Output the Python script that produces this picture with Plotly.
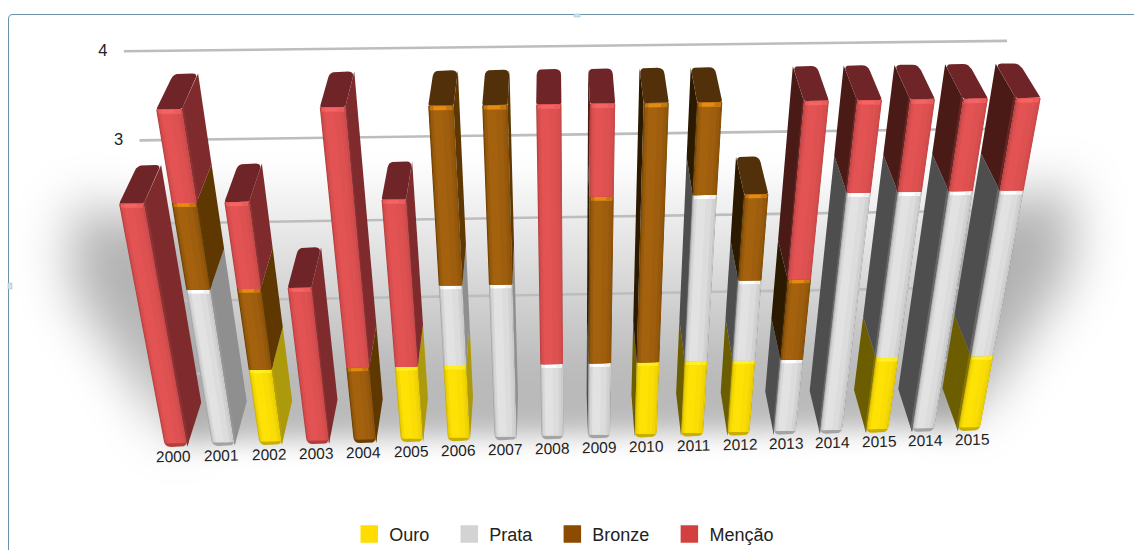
import base64
import plotly.graph_objects as go

# Medal counts per competition year (repeated years appear twice on the axis)
years = ["2000", "2001", "2002", "2003", "2004", "2005", "2006", "2007", "2008",
         "2009", "2010", "2011", "2012", "2013", "2014", "2015", "2014", "2015"]
ouro = [0, 0, 1, 0, 0, 1, 1, 0, 0, 0, 1, 1, 1, 0, 0, 1, 0, 1]
prata = [0, 2, 0, 0, 0, 0, 1, 2, 1, 1, 0, 2, 1, 1, 3, 2, 3, 2]
bronze = [0, 1, 1, 0, 1, 0, 2, 2, 0, 2, 3, 1, 1, 1, 0, 0, 0, 0]
mencao = [3, 1, 1, 2, 3, 2, 0, 0, 3, 1, 0, 0, 0, 2, 1, 1, 1, 1]
axis_ticks = [0, 1, 2, 3, 4]

series = [("Ouro", ouro), ("Prata", prata), ("Bronze", bronze), ("Menção", mencao)]

# Face colours for each series
STYLE = {
    "Ouro": dict(legend="#FFDD00", edge="#C9AE00", light="#FFE205", glow="#FFF02A",
                 right="#AD9A0C", left="#6B5D00", cap="#8A7A00"),
    "Prata": dict(legend="#D3D3D3", edge="#A4A4A4", light="#E2E2E2", glow="#FFFFFF",
                  right="#8F8F8F", left="#4E4E4E", cap="#777777"),
    "Bronze": dict(legend="#8B4B00", edge="#6A3D02", light="#A4620F", glow="#E58A12",
                   right="#5E3800", left="#2B1900", cap="#52300A"),
    "Menção": dict(legend="#D24040", edge="#B23E3E", light="#E35353", glow="#F56464",
                   right="#7F2B2E", left="#4A1A17", cap="#6F2528"),
}

BAR_WIDTH = 0.47
WALL_DEPTH = 1.7
WALL_RANGE = (-0.2, 17.5)

# Horizontal shading across a front face: (start of strip, share of the light colour)
FRONT_PROFILE = [(0.03, 0.5), (0.08, 0.8), (0.18, 1.0), (0.55, 0.9), (0.8, 0.75), (0.93, 0.5)]
FRONT_END = 0.97


def blend(c1, c2, t):
    a = [int(c1[k:k + 2], 16) for k in (1, 3, 5)]
    b = [int(c2[k:k + 2], 16) for k in (1, 3, 5)]
    return "#" + "".join(f"{round(x + (y - x) * t):02X}" for x, y in zip(a, b))


def project(u, v, d):
    """Perspective projection of (category position, value, depth) to the page plane."""
    w = 1 + 0.001 * u - 0.0335 * v + 0.04 * d
    px = 165 + 47.6 * u - 19.3 * v + 22 * d
    py = 447 - 0.51 * u - 87.9 * v - 28 * d
    return px / w, py / w


def rounded(points, radii):
    """Replace polygon corners with short quadratic arcs."""
    out = []
    n = len(points)
    for k, (p, r) in enumerate(zip(points, radii)):
        if r <= 0:
            out.append(p)
            continue
        a, b = points[k - 1], points[(k + 1) % n]
        la = ((a[0] - p[0]) ** 2 + (a[1] - p[1]) ** 2) ** 0.5
        lb = ((b[0] - p[0]) ** 2 + (b[1] - p[1]) ** 2) ** 0.5
        s = (p[0] + (a[0] - p[0]) * r / la, p[1] + (a[1] - p[1]) * r / la)
        e = (p[0] + (b[0] - p[0]) * r / lb, p[1] + (b[1] - p[1]) * r / lb)
        for t in (0, 0.25, 0.5, 0.75, 1):
            out.append(((1 - t) ** 2 * s[0] + 2 * t * (1 - t) * p[0] + t ** 2 * e[0],
                        (1 - t) ** 2 * s[1] + 2 * t * (1 - t) * p[1] + t ** 2 * e[1]))
    return out


fig = go.Figure()


def face(points, color):
    fig.add_trace(go.Scatter(
        x=[p[0] for p in points] + [points[0][0]],
        y=[p[1] for p in points] + [points[0][1]],
        mode="lines", line=dict(width=0), fill="toself", fillcolor=color,
        hoverinfo="skip", showlegend=False))


def side_wall(edge, v0, v1, color, rim):
    face([project(edge, v0, 0), project(edge, v1, 0), project(edge, v1, 1), project(edge, v0, 1)], color)
    face([project(edge, v0, 0), project(edge, v1, 0), project(edge, v1, 0.1), project(edge, v0, 0.1)],
         blend(color, rim, 0.3))


# Back wall: gridlines and value labels
for t in axis_ticks:
    a = project(WALL_RANGE[0], t, WALL_DEPTH)
    b = project(WALL_RANGE[1], t, WALL_DEPTH)
    fig.add_trace(go.Scatter(x=[a[0], b[0]], y=[a[1], b[1]], mode="lines",
                             line=dict(color="#BDBDBD", width=2.6),
                             hoverinfo="skip", showlegend=False))
    fig.add_trace(go.Scatter(x=[a[0] - 21], y=[a[1] + 0.5], mode="text", text=[str(t)],
                             textfont=dict(family="Liberation Sans", size=16.5, color="#222222"),
                             hoverinfo="skip", showlegend=False))

# Bars are painted from the outside towards the vanishing column
centre = 8.4
order = sorted(range(len(years)), key=lambda i: -abs(i + BAR_WIDTH / 2 - centre))

for i in order:
    total = sum(vals[i] for _, vals in series)
    u0, u1 = i, i + BAR_WIDTH
    show_right = project(u1, 4, 1)[0] > project(u1, 4, 0)[0]
    show_left = project(u0, 4, 1)[0] < project(u0, 4, 0)[0]

    base = 0
    segments = []
    for name, vals in series:
        if vals[i]:
            segments.append((name, base, base + vals[i]))
            base += vals[i]

    # side walls
    for name, v0, v1 in segments:
        st = STYLE[name]
        if show_right:
            side_wall(u1, v0, v1, st["right"], st["edge"])
        if show_left:
            side_wall(u0, v0, v1, st["left"], st["edge"])

    # top cap, with softened corners
    top_style = STYLE[segments[-1][0]]
    cap = [project(u0, total, 0), project(u1, total, 0), project(u1, total, 1), project(u0, total, 1)]
    face(rounded(cap, [2, 2, 6, 6]), top_style["cap"])

    # front faces: rim colour first, then overlapping strips and a highlight along the top
    for name, v0, v1 in segments:
        st = STYLE[name]
        outline = [project(u0, v0, 0), project(u1, v0, 0), project(u1, v1, 0), project(u0, v1, 0)]
        r = 6 if v0 == 0 else 0
        face(rounded(outline, [r, r, 0, 0]), st["edge"])
        inset = 0.05 if v0 == 0 else 0
        b = u0 + BAR_WIDTH * FRONT_END
        for f0, share in FRONT_PROFILE:
            a = u0 + BAR_WIDTH * f0
            face([project(a, v0 + inset, 0), project(b, v0 + inset, 0),
                  project(b, v1, 0), project(a, v1, 0)], blend(st["edge"], st["light"], share))
        b = u0 + BAR_WIDTH * 0.94
        for f0, share in ((0.06, 0.5), (0.2, 1.0), (0.7, 0.5)):
            a = u0 + BAR_WIDTH * f0
            face([project(a, v1 - 0.045, 0), project(b, v1 - 0.045, 0),
                  project(b, v1 - 0.005, 0), project(a, v1 - 0.005, 0)],
                 blend(st["light"], st["glow"], share))

# Legend entries
for name, _ in series:
    fig.add_trace(go.Scatter(x=[None], y=[None], mode="markers", name=name + "\u00a0\u00a0\u00a0",
                             marker=dict(symbol="square", size=16, color=STYLE[name]["legend"],
                                         line=dict(width=1.5, color=STYLE[name]["legend"]))))

# Year labels sit just in front of each bar, following the slight tilt of the floor
annotations = []
for i, year in enumerate(years):
    x, y = project(i + BAR_WIDTH / 2, 0, -0.2)
    annotations.append(dict(x=x, y=y, xref="x", yref="y", text=year, showarrow=False, textangle=-1,
                            font=dict(family="Liberation Sans", size=15.5, color="#1E1E1E")))

# Soft floor shadow under the bars
shadow_svg = """<svg xmlns='http://www.w3.org/2000/svg' width='1134' height='550' viewBox='0 0 1134 550'>
<defs>
<filter id='wide' filterUnits='userSpaceOnUse' x='-200' y='-200' width='1534' height='950'><feGaussianBlur stdDeviation='26'/></filter>
<filter id='tight' filterUnits='userSpaceOnUse' x='-200' y='-200' width='1534' height='950'><feGaussianBlur stdDeviation='13'/></filter>
<linearGradient id='fade' x1='0' y1='0' x2='0' y2='1'>
<stop offset='0' stop-color='#000' stop-opacity='0'/><stop offset='0.75' stop-color='#000' stop-opacity='0.27'/>
<stop offset='1' stop-color='#000' stop-opacity='0.27'/></linearGradient>
</defs>
<polygon filter='url(#wide)' fill='#000' fill-opacity='0.3' points='72,205 185,225 185,445 165,425 72,290'/>
<polygon filter='url(#wide)' fill='#000' fill-opacity='0.3' points='1072,185 945,215 945,420 980,405 1072,270'/>
<polygon filter='url(#tight)' fill='url(#fade)' points='150,170 1000,160 965,428 178,442'/>
</svg>"""
shadow_uri = "data:image/svg+xml;base64," + base64.b64encode(shadow_svg.encode()).decode()

fig.update_layout(
    width=1134, height=550,
    margin=dict(l=0, r=0, t=0, b=0, autoexpand=False),
    paper_bgcolor="white", plot_bgcolor="rgba(0,0,0,0)",
    xaxis=dict(range=[0, 1134], visible=False, fixedrange=True),
    yaxis=dict(range=[550, 0], visible=False, fixedrange=True),
    showlegend=True,
    legend=dict(orientation="h", x=0.308, xanchor="left", y=-0.005, yanchor="bottom",
                font=dict(family="Liberation Sans", size=18, color="#222222"),
                itemwidth=30, itemsizing="trace", bgcolor="rgba(0,0,0,0)"),
    annotations=annotations,
    images=[dict(source=shadow_uri, xref="paper", yref="paper", x=0, y=1, sizex=1, sizey=1,
                 sizing="stretch", xanchor="left", yanchor="top", layer="below")],
    shapes=[
        # slide frame and its selection handles
        dict(type="path", path="M 8.5 550 L 8.5 19 Q 8.5 14.5 13 14.5 L 1134 14.5",
             line=dict(color="#6A92A8", width=1)),
        dict(type="rect", x0=574, x1=580, y0=14, y1=17, fillcolor="#CFE3EE", line=dict(color="#8FB4C8", width=0.5)),
        dict(type="rect", x0=8, x1=12, y0=283, y1=289, fillcolor="#CFE3EE", line=dict(color="#8FB4C8", width=0.5)),
    ],
)

fig.write_html("out.html", config=dict(displayModeBar=False))
